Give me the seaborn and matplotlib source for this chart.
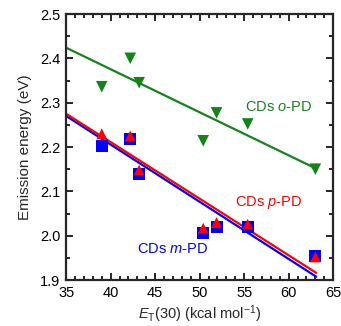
import numpy as np
import pandas as pd
import matplotlib
matplotlib.use('Agg')
import matplotlib.pyplot as plt
from matplotlib.ticker import MultipleLocator, FormatStrFormatter
import seaborn as sns

# solvent polarity E_T(30) in kcal/mol
et30 = [39.0, 42.2, 43.2, 50.4, 51.9, 55.4, 63.0]
# emission energies (eV)
o_pd = [2.336, 2.40, 2.345, 2.214, 2.277, 2.252, 2.15]
p_pd = [2.23, 2.225, 2.148, 2.017, 2.03, 2.026, 1.952]
m_pd = [2.202, 2.218, 2.139, 2.006, 2.02, 2.02, 1.955]

# linear fits: value at E_T(30)=35 and slope
fit_x = [35.0, 63.1]
fit_o = (2.424, -0.00971)
fit_p = (2.275, -0.01277)
fit_m = (2.270, -0.01290)

green = '#13841a'
red = '#ff0000'
blue = '#0000ff'

df = pd.DataFrame({'ET30': et30, 'o': o_pd, 'p': p_pd, 'm': m_pd})
fx = np.array(fit_x)
fits = pd.DataFrame({
    'ET30': fx,
    'o': fit_o[0] + fit_o[1] * (fx - 35),
    'p': fit_p[0] + fit_p[1] * (fx - 35),
    'm': fit_m[0] + fit_m[1] * (fx - 35),
})

sns.set_style('ticks')
plt.rcParams['font.family'] = ['Liberation Sans', 'DejaVu Sans']
plt.rcParams['mathtext.fontset'] = 'custom'
plt.rcParams['mathtext.it'] = 'Liberation Sans:italic'
plt.rcParams['mathtext.rm'] = 'Liberation Sans'

fig = plt.figure(figsize=(3.41, 3.26), dpi=100)
ax = fig.add_axes([0.194, 0.141, 0.783, 0.816])

sns.lineplot(data=fits, x='ET30', y='o', ax=ax, color=green, lw=1.6)
sns.lineplot(data=fits, x='ET30', y='m', ax=ax, color=blue, lw=1.6)
sns.lineplot(data=fits, x='ET30', y='p', ax=ax, color=red, lw=1.6)

sns.scatterplot(data=df, x='ET30', y='o', ax=ax, marker='v', s=70,
                color=green, edgecolor='none', zorder=5)
sns.scatterplot(data=df, x='ET30', y='m', ax=ax, marker='s', s=75,
                color=blue, edgecolor='none', zorder=5)
sns.scatterplot(data=df, x='ET30', y='p', ax=ax, marker='^', s=60,
                color=red, edgecolor='none', zorder=6)

ax.text(58.9, 2.29, 'CDs $o$-PD', color=green, fontsize=10.5,
        ha='center', va='center')
ax.text(57.7, 2.076, 'CDs $p$-PD', color=red, fontsize=10.5,
        ha='center', va='center')
ax.text(47.0, 1.97, 'CDs $m$-PD', color=blue, fontsize=10.5,
        ha='center', va='center')

ax.set_xlim(35, 65)
ax.set_ylim(1.9, 2.5)
ax.xaxis.set_major_locator(MultipleLocator(5))
ax.xaxis.set_minor_locator(MultipleLocator(1))
ax.yaxis.set_major_locator(MultipleLocator(0.1))
ax.yaxis.set_minor_locator(MultipleLocator(0.05))
ax.yaxis.set_major_formatter(FormatStrFormatter('%.1f'))
ax.tick_params(which='both', direction='in', top=True, right=True,
               labelsize=10.5, width=1.2, colors='black')
ax.tick_params(which='major', length=5, pad=4)
ax.tick_params(which='minor', length=3)
for sp in ax.spines.values():
    sp.set_linewidth(1.6)
    sp.set_visible(True)

ax.set_xlabel('$E_\\mathrm{T}$(30) (kcal mol$^{-1}$)', fontsize=10.5, labelpad=3)
ax.set_ylabel('Emission energy (eV)', fontsize=11, labelpad=6)

fig.savefig('out.png', dpi=100)
